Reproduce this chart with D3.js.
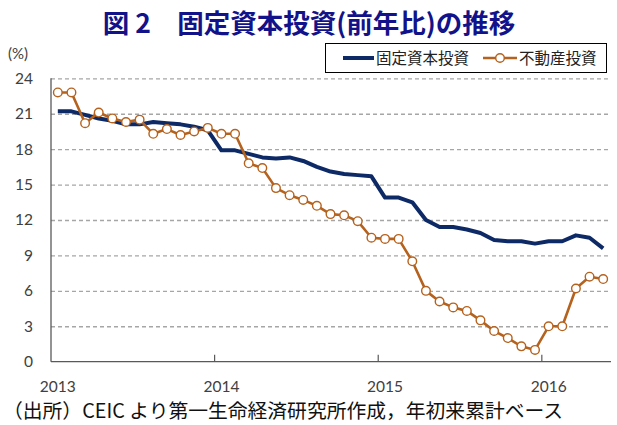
<!DOCTYPE html>
<html>
<head>
<meta charset="utf-8">
<script src="https://cdn.jsdelivr.net/npm/d3@7"></script>
<style>
  body { margin: 0; background: #fff; }
  svg { display: block; }
</style>
</head>
<body>
<div id="chart"></div>
<script>
// --- data ---
const months = d3.timeMonth.range(new Date(2013, 0, 1), new Date(2016, 5, 1)); // Jan 2013 .. May 2016
const yearLabels = ['2013', '2014', '2015', '2016'];
const yTicks = [0, 3, 6, 9, 12, 15, 18, 21, 24];
const seriesNames = ['固定資本投資', '不動産投資'];

// 固定資本投資 (YTD, % y/y)
const fixedAsset = [
  21.2, 21.2, 20.9, 20.6, 20.4, 20.1, 20.1, 20.3, 20.2, 20.1, 19.9, 19.6,
  17.9, 17.9, 17.6, 17.3, 17.2, 17.3, 17.0, 16.5, 16.1, 15.9, 15.8, 15.7,
  13.9, 13.9, 13.5, 12.0, 11.4, 11.4, 11.2, 10.9, 10.3, 10.2, 10.2, 10.0,
  10.2, 10.2, 10.7, 10.5, 9.6
];
// 不動産投資 (YTD, % y/y)
const realEstate = [
  22.8, 22.8, 20.2, 21.1, 20.6, 20.3, 20.5, 19.3, 19.7, 19.2, 19.5, 19.8,
  19.3, 19.3, 16.8, 16.4, 14.7, 14.1, 13.7, 13.2, 12.5, 12.4, 11.9, 10.5,
  10.4, 10.4, 8.5, 6.0, 5.1, 4.6, 4.3, 3.5, 2.6, 2.0, 1.3, 1.0,
  3.0, 3.0, 6.2, 7.2, 7.0
];

// --- sizing ---
const W = 617, H = 425;
const plot = { left: 51, right: 610, top: 78.3, bottom: 361.7 };
const blue = '#0d2a66';
const orange = '#b5621e';
const labelFont = 'Lato, "Noto Sans", sans-serif';
const cjkFont = '"Noto Sans CJK JP", sans-serif';

const key = d3.timeFormat('%Y-%m');

const svg = d3.select('#chart').append('svg')
  .attr('width', W)
  .attr('height', H);

svg.append('rect').attr('width', W).attr('height', H).attr('fill', '#fff');

// --- scales ---
const x = d3.scaleBand()
  .domain(months.map(key))
  .range([plot.left, plot.right])
  .padding(0);

const y = d3.scaleLinear()
  .domain([0, 24])
  .range([plot.bottom, plot.top]);

const cx = i => x(key(months[i])) + x.bandwidth() / 2;

// Title
svg.append('text')
  .attr('x', 309)
  .attr('y', 33)
  .attr('text-anchor', 'middle')
  .attr('font-family', cjkFont)
  .attr('font-weight', 'bold')
  .attr('font-size', 26.5)
  .attr('fill', '#12128a')
  .style('white-space', 'pre')
  .text('図 2　固定資本投資(前年比)の推移');

// (%) unit
svg.append('text')
  .attr('x', 8)
  .attr('y', 59)
  .attr('font-family', labelFont)
  .attr('font-size', 15)
  .attr('fill', '#404040')
  .text('(%)');

// y axis + dashed grid
const yAxis = d3.axisLeft(y)
  .tickValues(yTicks)
  .tickSize(-(plot.right + 1 - plot.left))
  .tickPadding(18);

const gy = svg.append('g')
  .attr('class', 'axis axis--y')
  .attr('transform', `translate(${plot.left},0)`)
  .call(yAxis);

gy.select('.domain').remove();
gy.selectAll('.tick line')
  .attr('stroke', d => d === 0 ? 'none' : '#a6a6a6')
  .attr('stroke-width', 1.3)
  .attr('stroke-dasharray', '4,3');
gy.selectAll('.tick text')
  .attr('font-family', labelFont)
  .attr('font-size', 15.5)
  .attr('fill', '#404040');

// axis lines
svg.append('line')
  .attr('x1', plot.left).attr('x2', plot.left)
  .attr('y1', y(24)).attr('y2', y(0))
  .attr('stroke', '#595959').attr('stroke-width', 1.3);

svg.append('line')
  .attr('x1', plot.left).attr('x2', plot.right + 1)
  .attr('y1', y(0)).attr('y2', y(0))
  .attr('stroke', '#595959').attr('stroke-width', 1.3);

// year ticks (inside) at January boundaries
const janKeys = yearLabels.map(yr => yr + '-01');
svg.append('g').selectAll('line')
  .data(janKeys.slice(1))
  .enter().append('line')
  .attr('x1', d => x(d)).attr('x2', d => x(d))
  .attr('y1', y(0)).attr('y2', y(0) - 7)
  .attr('stroke', '#595959').attr('stroke-width', 1.2);

// year labels, centered on January
const xAxis = d3.axisBottom(x)
  .tickValues(janKeys)
  .tickSize(0)
  .tickPadding(19)
  .tickFormat(d => d.slice(0, 4));

const gx = svg.append('g')
  .attr('class', 'axis axis--x')
  .attr('transform', `translate(0,${plot.bottom})`)
  .call(xAxis);
gx.select('.domain').remove();
gx.selectAll('.tick text')
  .attr('font-family', labelFont)
  .attr('font-size', 15.5)
  .attr('fill', '#404040');

// --- lines ---
const line = d3.line()
  .x((d, i) => cx(i))
  .y(d => y(d));

svg.append('path')
  .datum(fixedAsset)
  .attr('class', 'fixed-path')
  .attr('d', line)
  .attr('fill', 'none')
  .attr('stroke', blue)
  .attr('stroke-width', 4)
  .attr('stroke-linejoin', 'round');

svg.append('path')
  .datum(realEstate)
  .attr('class', 're-path')
  .attr('d', line)
  .attr('fill', 'none')
  .attr('stroke', orange)
  .attr('stroke-width', 2.6)
  .attr('stroke-linejoin', 'round');

svg.append('g').selectAll('circle')
  .data(realEstate)
  .enter().append('circle')
  .attr('class', 're-dots')
  .attr('cx', (d, i) => cx(i))
  .attr('cy', d => y(d))
  .attr('r', 4.3)
  .attr('fill', '#fff')
  .attr('stroke', orange)
  .attr('stroke-width', 1.4);

// --- legend ---
const legend = svg.append('g').attr('class', 'legend');
legend.append('rect')
  .attr('x', 325.5).attr('y', 43.5)
  .attr('width', 281).attr('height', 29)
  .attr('fill', '#fff')
  .attr('stroke', '#000')
  .attr('stroke-width', 1);

legend.append('line')
  .attr('x1', 343).attr('x2', 374)
  .attr('y1', 58).attr('y2', 58)
  .attr('stroke', blue).attr('stroke-width', 4);
legend.append('text')
  .attr('x', 376).attr('y', 64)
  .attr('font-family', cjkFont)
  .attr('font-size', 15.5)
  .attr('fill', '#222')
  .text(seriesNames[0]);

legend.append('line')
  .attr('x1', 483).attr('x2', 517)
  .attr('y1', 58).attr('y2', 58)
  .attr('stroke', orange).attr('stroke-width', 2.6);
legend.append('circle')
  .attr('cx', 500).attr('cy', 58).attr('r', 4.3)
  .attr('fill', '#fff').attr('stroke', orange).attr('stroke-width', 1.4);
legend.append('text')
  .attr('x', 519).attr('y', 64)
  .attr('font-family', cjkFont)
  .attr('font-size', 15.5)
  .attr('fill', '#222')
  .text(seriesNames[1]);

// source note
svg.append('text')
  .attr('x', 3)
  .attr('y', 418)
  .attr('font-family', cjkFont)
  .attr('font-size', 19.8)
  .attr('fill', '#111')
  .text('（出所）CEIC より第一生命経済研究所作成，年初来累計ベース');
</script>
</body>
</html>
